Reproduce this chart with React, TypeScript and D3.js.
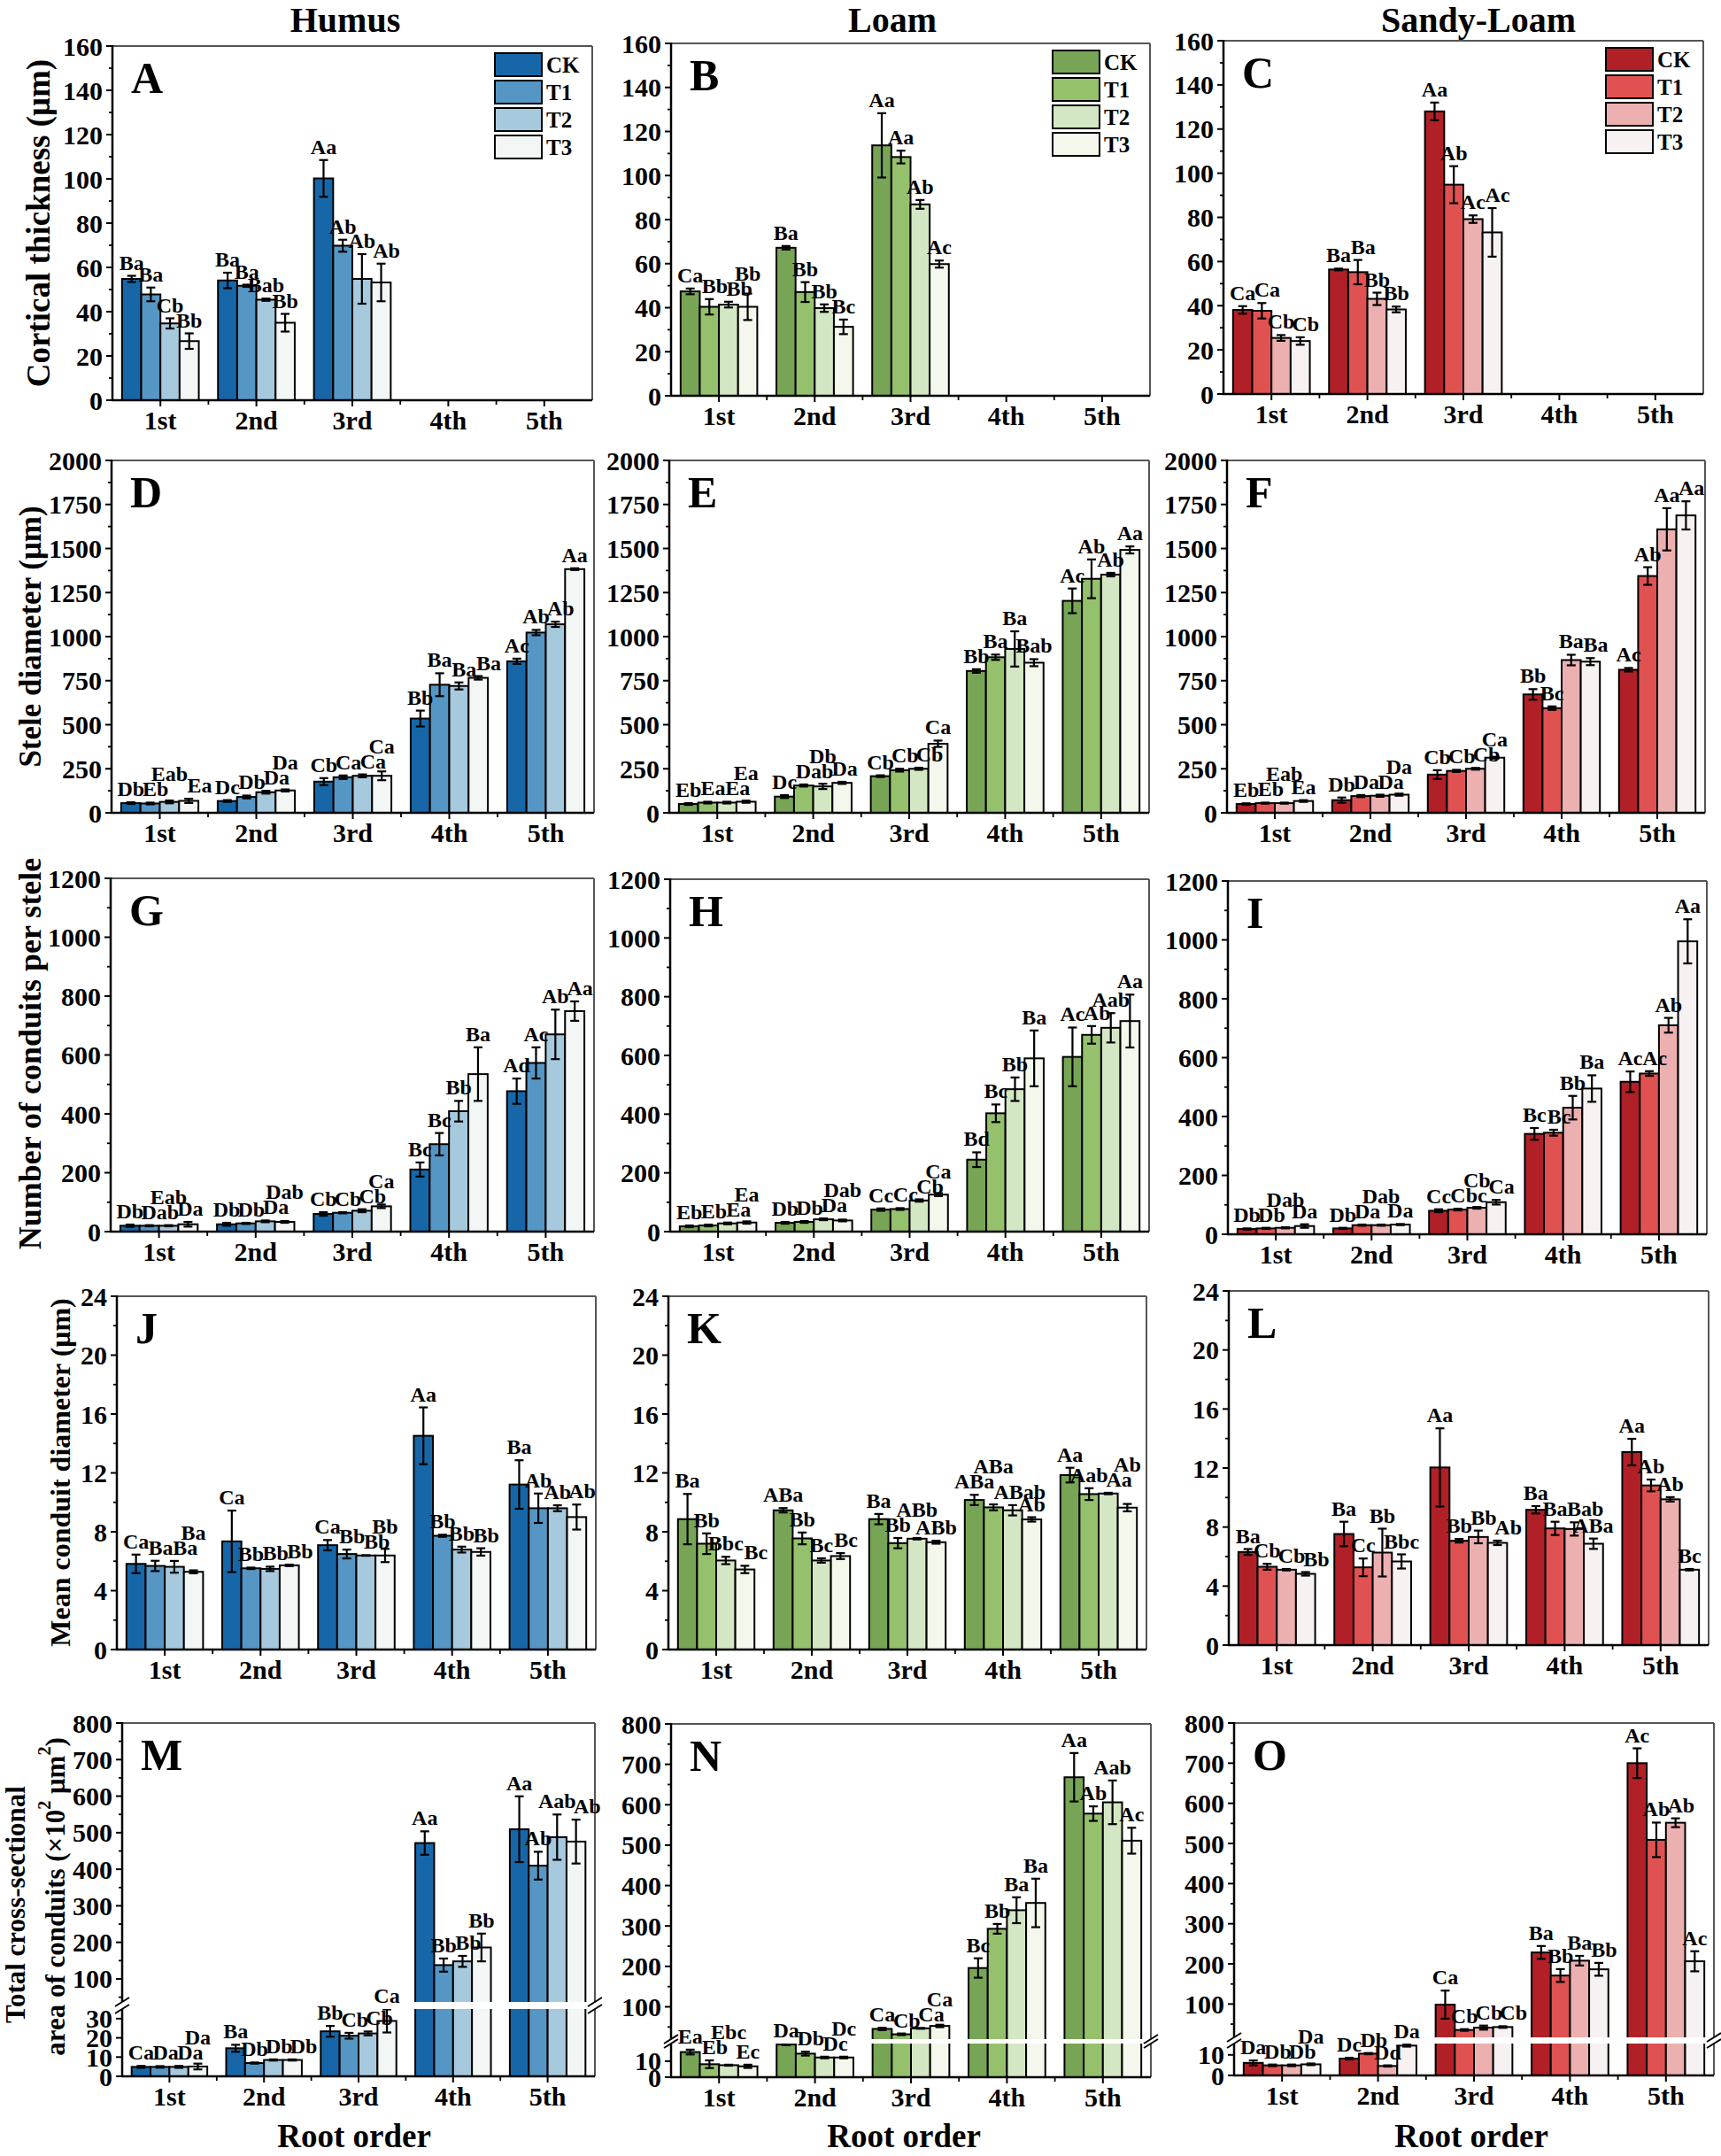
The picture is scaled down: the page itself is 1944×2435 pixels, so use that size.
import React from "react";
import * as d3 from "d3";

const FONT = "'Liberation Serif', 'Times New Roman', serif";
const W = 1944;
const H = 2435;

const orders = ["1st", "2nd", "3rd", "4th", "5th"];
const treatments = ["CK", "T1", "T2", "T3"];

const blues = ["#1767a8", "#5696c4", "#a7c9de", "#f2f7f5"];
const greens = ["#77a555", "#95c16c", "#d4e7c4", "#f4f8ec"];
const reds = ["#b12026", "#e05252", "#ecb0b0", "#f8f1f1"];

// Cortical thickness (µm)
const aMean = [[54.8, 47.8, 34.7, 26.7], [54.1, 51.7, 45.4, 35.0], [100.2, 69.8, 54.8, 53.2], null, null];
const aErr = [[1.4, 3.1, 2.3, 3.5], [3.5, 0.5, 0.5, 4.0], [8.3, 2.7, 11.2, 8.5], null, null];
const aLab = [["Ba", "Ba", "Cb", "Bb"], ["Ba", "Ba", "Bab", "Bb"], ["Aa", "Ab", "Ab", "Ab"], null, null];

const bMean = [[47.4, 40.4, 41.4, 40.4], [67.2, 47.1, 39.8, 31.3], [113.7, 108.4, 86.9, 59.8], null, null];
const bErr = [[1.3, 3.5, 1.3, 6.0], [0.8, 4.5, 1.7, 3.3], [14.6, 2.9, 2.0, 1.6], null, null];
const bLab = [["Ca", "Bb", "Bb", "Bb"], ["Ba", "Bb", "Bb", "Bc"], ["Aa", "Aa", "Ab", "Ac"], null, null];

const cMean = [[38.1, 37.7, 25.4, 24.0], [56.4, 55.2, 43.1, 38.3], [128.0, 94.8, 79.2, 73.2], null, null];
const cErr = [[1.7, 3.5, 1.3, 1.7], [0.4, 5.5, 2.8, 1.3], [4.0, 8.4, 1.7, 11.0], null, null];
const cLab = [["Ca", "Ca", "Cb", "Cb"], ["Ba", "Ba", "Bb", "Bb"], ["Aa", "Ab", "Ac", "Ac"], null, null];

// Stele diameter (µm)
const dMean = [[55, 53, 62, 68], [67, 90, 117, 127], [177, 202, 210, 210], [535, 727, 720, 766], [860, 1023, 1070, 1383]];
const dErr = [[5, 5, 8, 12], [5, 8, 8, 6], [20, 10, 8, 25], [45, 65, 20, 10], [15, 15, 15, 5]];
const dLab = [["Db", "Eb", "Eab", "Ea"], ["Dc", "Db", "Da", "Da"], ["Cb", "Ca", "Ca", "Ca"], ["Bb", "Ba", "Ba", "Ba"], ["Ac", "Ab", "Ab", "Aa"]];

const eMean = [[50, 58, 58, 63], [92, 155, 150, 170], [208, 242, 250, 392], [805, 883, 930, 852], [1203, 1328, 1352, 1492]];
const eErr = [[5, 5, 5, 6], [8, 6, 15, 6], [5, 8, 6, 18], [10, 15, 100, 20], [70, 110, 10, 20]];
const eLab = [["Eb", "Ea", "Ea", "Ea"], ["Dc", "Dab", "Db", "Da"], ["Cb", "Cb", "Cb", "Ca"], ["Bb", "Ba", "Ba", "Bab"], ["Ac", "Ab", "Ab", "Aa"]];

const fMean = [[50, 55, 55, 67], [72, 95, 97, 103], [217, 238, 250, 313], [672, 594, 867, 858], [812, 1344, 1609, 1688]];
const fErr = [[4, 3, 3, 5], [15, 6, 6, 6], [25, 6, 5, 5], [30, 10, 30, 20], [10, 50, 120, 80]];
const fLab = [["Eb", "Eb", "Eab", "Ea"], ["Db", "Da", "Da", "Da"], ["Cb", "Cb", "Cb", "Ca"], ["Bb", "Bc", "Ba", "Ba"], ["Ac", "Ab", "Aa", "Aa"]];

// Number of conduits per stele
const gMean = [[20, 20, 20, 25], [25, 28, 35, 33], [60, 64, 71, 86], [211, 297, 409, 535], [477, 573, 670, 749]];
const gErr = [[4, 2, 2, 8], [5, 2, 3, 3], [6, 2, 5, 6], [24, 38, 35, 91], [43, 53, 84, 33]];
const gLab = [["Db", "Dab", "Eab", "Da"], ["Db", "Db", "Da", "Dab"], ["Cb", "Cb", "Cb", "Ca"], ["Bc", "Bc", "Bb", "Ba"], ["Ad", "Ac", "Ab", "Aa"]];

const hMean = [[18, 21, 28, 31], [30, 33, 42, 38], [75, 77, 106, 126], [245, 403, 485, 590], [595, 670, 694, 717]];
const hErr = [[3, 3, 3, 4], [3, 3, 3, 3], [4, 3, 4, 5], [25, 30, 40, 95], [100, 30, 50, 90]];
const hLab = [["Eb", "Eb", "Ea", "Ea"], ["Db", "Db", "Da", "Dab"], ["Cc", "Cc", "Cb", "Ca"], ["Bd", "Bc", "Bb", "Ba"], ["Ac", "Ab", "Aab", "Aa"]];

const iMean = [[18, 20, 22, 28], [20, 31, 31, 33], [80, 84, 90, 109], [341, 345, 430, 495], [518, 546, 710, 995]];
const iErr = [[2, 2, 2, 6], [2, 2, 2, 2], [5, 3, 3, 8], [20, 10, 40, 45], [35, 8, 25, 75]];
const iLab = [["Db", "Db", "Dab", "Da"], ["Db", "Da", "Dab", "Da"], ["Cc", "Cbc", "Cb", "Ca"], ["Bc", "Bc", "Bb", "Ba"], ["Ac", "Ac", "Ab", "Aa"]];

// Mean conduit diameter (µm)
const jMean = [[5.82, 5.68, 5.62, 5.28], [7.35, 5.52, 5.48, 5.72], [7.09, 6.49, 6.39, 6.39], [14.52, 7.73, 6.79, 6.63], [11.21, 9.6, 9.6, 9.0]];
const jErr = [[0.63, 0.35, 0.4, 0.1], [2.09, 0.05, 0.15, 0.05], [0.35, 0.3, 0.02, 0.45], [1.93, 0.07, 0.2, 0.25], [1.65, 1.0, 0.2, 0.85]];
const jLab = [["Ca", "Ba", "Ba", "Ba"], ["Ca", "Bb", "Bb", "Bb"], ["Ca", "Bb", "Bb", "Bb"], ["Aa", "Bb", "Bb", "Bb"], ["Ba", "Ab", "Ab", "Ab"]];

const kMean = [[8.86, 7.19, 6.05, 5.44], [9.46, 7.55, 6.05, 6.35], [8.86, 7.23, 7.53, 7.29], [10.16, 9.66, 9.46, 8.84], [11.85, 10.56, 10.6, 9.64]];
const kErr = [[1.71, 0.7, 0.25, 0.25], [0.15, 0.4, 0.15, 0.2], [0.35, 0.35, 0.05, 0.1], [0.35, 0.2, 0.35, 0.15], [0.5, 0.4, 0.05, 0.25]];
const kLab = [["Ba", "Bb", "Bbc", "Bc"], ["ABa", "Bb", "Bc", "Bc"], ["Ba", "Bb", "ABb", "ABb"], ["ABa", "ABa", "ABab", "Ab"], ["Aa", "Aab", "Aa", "Ab"]];

const lMean = [[6.31, 5.31, 5.11, 4.83], [7.53, 5.27, 6.27, 5.67], [12.04, 7.07, 7.33, 6.93], [9.17, 7.91, 7.87, 6.87], [13.08, 10.82, 9.88, 5.11]];
const lErr = [[0.2, 0.2, 0.05, 0.12], [0.83, 0.6, 1.62, 0.48], [2.65, 0.12, 0.43, 0.15], [0.25, 0.45, 0.45, 0.35], [0.9, 0.4, 0.15, 0.05]];
const lLab = [["Ba", "Cb", "Cb", "Bb"], ["Ba", "Cc", "Bb", "Bbc"], ["Aa", "Bb", "Bb", "Ab"], ["Ba", "Ba", "Bab", "ABa"], ["Aa", "Ab", "Ab", "Bc"]];

// Total cross-sectional area of conduits (x10^2 µm^2)
const mMean = [[4.9, 4.9, 4.9, 5.1], [14.6, 6.9, 8.5, 8.5], [23.4, 21.1, 22.3, 28.8], [471.7, 137.8, 148, 186], [509.5, 409.8, 487.8, 475.7]];
const mErr = [[0.5, 0.4, 0.5, 1.5], [1.8, 0.3, 0.3, 0.3], [2.8, 1.5, 1.0, 6.0], [32, 18, 15, 38], [90, 38, 62, 60]];
const mLab = [["Ca", "Da", "Da", "Da"], ["Ba", "Db", "Db", "Db"], ["Bb", "Cb", "Cb", "Ca"], ["Aa", "Bb", "Bb", "Bb"], ["Aa", "Ab", "Aab", "Ab"]];

const nMean = [[15.7, 8.1, 7.5, 6.8], [20.4, 14.7, 12.3, 12.3], [45.3, 32, 46.7, 52.6], [196, 293, 339, 357], [668, 578, 606, 511]];
const nErr = [[1.5, 2.4, 0.3, 1.0], [0.4, 1.2, 0.5, 0.5], [3, 2, 1, 3], [24, 12, 32, 60], [60, 18, 54, 32]];
const nLab = [["Ea", "Eb", "Ebc", "Ec"], ["Da", "Db", "Dc", "Dc"], ["Ca", "Cb", "Ca", "Ca"], ["Bc", "Bb", "Ba", "Ba"], ["Aa", "Ab", "Aab", "Ac"]];

const oMean = [[6.1, 4.9, 4.9, 5.4], [8.2, 10.6, 4.6, 14.5], [98.5, 35.4, 41.3, 42.7], [228.5, 171, 208, 186.5], [700, 509, 551.6, 206.5]];
const oErr = [[1.2, 0.4, 0.4, 0.4], [0.4, 0.3, 0.3, 0.5], [35, 2, 5, 2], [16, 16, 12, 16], [37, 43, 11, 25]];
const oLab = [["Da", "Db", "Db", "Da"], ["Dc", "Db", "Dd", "Da"], ["Ca", "Cb", "Cb", "Cb"], ["Ba", "Bb", "Ba", "Bb"], ["Ac", "Ab", "Ab", "Ac"]];

const columnTitles = ["Humus", "Loam", "Sandy-Loam"];

// panel layout (pixel frame of each plot area)
const panels = [
  { id: "A", mean: aMean, err: aErr, lab: aLab, col: blues, max: 160, step: 20, left: 127, right: 669, top: 52, bottom: 452, legend: true },
  { id: "B", mean: bMean, err: bErr, lab: bLab, col: greens, max: 160, step: 20, left: 758, right: 1299, top: 49, bottom: 447, legend: true },
  { id: "C", mean: cMean, err: cErr, lab: cLab, col: reds, max: 160, step: 20, left: 1382, right: 1924, top: 46, bottom: 445, legend: true },
  { id: "D", mean: dMean, err: dErr, lab: dLab, col: blues, max: 2000, step: 250, left: 126, right: 671, top: 520, bottom: 918 },
  { id: "E", mean: eMean, err: eErr, lab: eLab, col: greens, max: 2000, step: 250, left: 756, right: 1298, top: 520, bottom: 918 },
  { id: "F", mean: fMean, err: fErr, lab: fLab, col: reds, max: 2000, step: 250, left: 1386, right: 1926, top: 520, bottom: 918 },
  { id: "G", mean: gMean, err: gErr, lab: gLab, col: blues, max: 1200, step: 200, left: 125, right: 671, top: 992, bottom: 1391 },
  { id: "H", mean: hMean, err: hErr, lab: hLab, col: greens, max: 1200, step: 200, left: 757, right: 1298, top: 993, bottom: 1391 },
  { id: "I", mean: iMean, err: iErr, lab: iLab, col: reds, max: 1200, step: 200, left: 1387, right: 1928, top: 995, bottom: 1394 },
  { id: "J", mean: jMean, err: jErr, lab: jLab, col: blues, max: 24, step: 4, left: 132, right: 673, top: 1464, bottom: 1863 },
  { id: "K", mean: kMean, err: kErr, lab: kLab, col: greens, max: 24, step: 4, left: 755, right: 1295, top: 1464, bottom: 1863 },
  { id: "L", mean: lMean, err: lErr, lab: lLab, col: reds, max: 24, step: 4, left: 1388, right: 1930, top: 1458, bottom: 1858 },
  { id: "M", mean: mMean, err: mErr, lab: mLab, col: blues, max: 800, step: 100, left: 138, right: 672, top: 1946, bottom: 2345,
    brk: { lowMax: 35, highMin: 37, lowPx: 76, highPx: 84, lowTicks: [0, 10, 20, 30] } },
  { id: "N", mean: nMean, err: nErr, lab: nLab, col: greens, max: 800, step: 100, left: 758, right: 1300, top: 1947, bottom: 2346,
    brk: { lowMax: 21, highMin: 20, lowPx: 38, highPx: 43, lowTicks: [0, 10] } },
  { id: "O", mean: oMean, err: oErr, lab: oLab, col: reds, max: 800, step: 100, left: 1394, right: 1936, top: 1946, bottom: 2344,
    brk: { lowMax: 15.5, highMin: 17, lowPx: 36, highPx: 43, lowTicks: [0, 10] } },
];

const LBL = 24;

// rough width of a bold serif label
const labelWidth = (s: string) =>
  [...s].reduce((w, c) => w + (/[A-Z]/.test(c) ? 0.72 : 0.52), 0) * LBL;

function Panel({ p }: { p: any }) {
  const x = d3.scaleBand<string>().domain(orders).range([p.left, p.right]);
  const bw = x.bandwidth();
  const xi = d3.scaleBand<string>().domain(treatments).range([bw * 0.1, bw * 0.9]);
  const barW = xi.bandwidth();

  let y: (v: number) => number;
  let majors: number[];
  let minors: number[];
  if (p.brk) {
    const lo = d3.scaleLinear().domain([0, p.brk.lowMax]).range([p.bottom, p.bottom - p.brk.lowPx]);
    const hi = d3.scaleLinear().domain([p.brk.highMin, p.max]).range([p.bottom - p.brk.highPx, p.top]);
    y = (v) => (v <= p.brk.lowMax ? lo(v) : hi(Math.max(v, p.brk.highMin)));
    majors = [...p.brk.lowTicks, ...d3.range(100, p.max + 1, 100)];
    minors = d3.range(50, p.max, 100).filter((v) => v > p.brk.highMin + 5);
  } else {
    const s = d3.scaleLinear().domain([0, p.max]).range([p.bottom, p.top]);
    y = (v) => s(v);
    majors = d3.range(0, p.max + p.step / 2, p.step);
    minors = d3.range(p.step / 2, p.max, p.step);
  }

  const bars: any[] = [];
  const labels: any[] = [];
  const placed: any[] = [];
  orders.forEach((o, gi) => {
    const row = p.mean[gi];
    if (!row) return;
    row.forEach((m: number, ti: number) => {
      const e = p.err[gi][ti];
      const bx = (x(o) as number) + (xi(treatments[ti]) as number);
      const cx = bx + barW / 2;
      bars.push({ key: `${o}-${ti}`, bx, cx, m, e, color: p.col[ti] });
      const txt = p.lab[gi][ti];
      const w = labelWidth(txt);
      let lx = cx;
      let ly = y(m + e) - 7;
      // nudge right a little, otherwise step up, until the letters stop colliding
      for (let it = 0; it < 30; it++) {
        let hit = false;
        for (const q of placed) {
          const hov = (w + q.w) / 2 - Math.abs(lx - q.lx);
          if (hov > 3 && Math.abs(ly - q.ly) < 13) {
            const need = hov - 2;
            if (lx >= q.lx && lx - cx + need <= 13) lx += need;
            else ly = q.ly - 17;
            hit = true;
          }
        }
        if (!hit) break;
      }
      placed.push({ lx, ly, w });
      labels.push({ key: `${o}-${ti}`, lx, ly, txt });
    });
  });

  const cap = 5;
  return (
    <g>
      {bars.map((b) => (
        <rect key={b.key} x={b.bx} width={barW} y={y(b.m)} height={p.bottom - y(b.m)}
          fill={b.color} stroke="#000" strokeWidth={2} />
      ))}
      {bars.map((b) => {
        const y1 = y(b.m + b.e);
        const y2 = y(Math.max(0, b.m - b.e));
        return (
          <g key={"e" + b.key} stroke="#000" strokeWidth={2.2}>
            <line x1={b.cx} x2={b.cx} y1={y1} y2={y2} />
            <line x1={b.cx - cap} x2={b.cx + cap} y1={y1} y2={y1} />
            <line x1={b.cx - cap} x2={b.cx + cap} y1={y2} y2={y2} />
          </g>
        );
      })}
      {/* frame */}
      <line x1={p.left} x2={p.right} y1={p.top} y2={p.top} stroke="#555" strokeWidth={2} />
      <line x1={p.right} x2={p.right} y1={p.top} y2={p.bottom} stroke="#555" strokeWidth={2} />
      <line x1={p.left} x2={p.left} y1={p.top - 1} y2={p.bottom + 1} stroke="#000" strokeWidth={2.5} />
      <line x1={p.left - 1} x2={p.right} y1={p.bottom} y2={p.bottom} stroke="#000" strokeWidth={2.5} />
      {/* y ticks */}
      {majors.map((v) => (
        <g key={"yt" + v}>
          <line x1={p.left - 7} x2={p.left} y1={y(v)} y2={y(v)} stroke="#000" strokeWidth={2} />
          <text x={p.left - 11} y={y(v)} textAnchor="end" dominantBaseline="central"
            fontFamily={FONT} fontWeight="bold" fontSize={30}>{v}</text>
        </g>
      ))}
      {minors.map((v) => (
        <line key={"ym" + v} x1={p.left - 4} x2={p.left} y1={y(v)} y2={y(v)} stroke="#000" strokeWidth={1.8} />
      ))}
      {/* x ticks */}
      {orders.map((o) => (
        <g key={"xt" + o}>
          <line x1={(x(o) as number) + bw / 2} x2={(x(o) as number) + bw / 2} y1={p.bottom} y2={p.bottom + 7}
            stroke="#000" strokeWidth={2} />
          <text x={(x(o) as number) + bw / 2} y={p.bottom + 33} textAnchor="middle"
            fontFamily={FONT} fontWeight="bold" fontSize={30}>{o}</text>
        </g>
      ))}
      {orders.slice(1).map((o) => (
        <line key={"xm" + o} x1={x(o) as number} x2={x(o) as number} y1={p.bottom} y2={p.bottom + 5}
          stroke="#000" strokeWidth={1.8} />
      ))}
      {p.brk && (
        <g>
          <rect x={p.left - 14} width={p.right - p.left + 28} y={p.bottom - p.brk.highPx}
            height={p.brk.highPx - p.brk.lowPx} fill="#fff" />
          {[p.left, p.right].map((bx) =>
            [p.bottom - p.brk.highPx, p.bottom - p.brk.lowPx].map((by) => (
              <line key={`${bx}-${by}`} x1={bx - 8} y1={by + 5} x2={bx + 8} y2={by - 5}
                stroke="#000" strokeWidth={2} />
            ))
          )}
        </g>
      )}
      {labels.map((l) => (
        <text key={"l" + l.key} x={l.lx} y={l.ly} textAnchor="middle" fontFamily={FONT}
          fontWeight="bold" fontSize={LBL}>{l.txt}</text>
      ))}
      <text x={p.left + 21} y={p.top + 53} fontFamily={FONT} fontWeight="bold" fontSize={50}>{p.id}</text>
      {p.legend &&
        treatments.map((t, i) => (
          <g key={"lg" + t}>
            <rect x={p.right - 110} y={p.top + 8 + i * 31} width={53} height={26}
              fill={p.col[i]} stroke="#000" strokeWidth={2} />
            <text x={p.right - 52} y={p.top + 21 + i * 31} dominantBaseline="central"
              fontFamily={FONT} fontWeight="bold" fontSize={25}>{t}</text>
          </g>
        ))}
    </g>
  );
}

const yTitles = [
  { text: "Cortical thickness (μm)", x: 43, y: 252, fs: 37 },
  { text: "Stele diameter (μm)", x: 34, y: 719, fs: 35 },
  { text: "Number of conduits per stele", x: 34, y: 1190, fs: 36 },
  { text: "Mean conduit diameter (μm)", x: 68, y: 1663, fs: 32 },
];

export default function App() {
  const titleX = [390, 1008, 1670];
  const rootX = [400, 1021, 1662];
  return (
    <svg width={W} height={H} style={{ position: "absolute", left: 0, top: 0, background: "#fff" }}>
      <rect width={W} height={H} fill="#fff" />
      {columnTitles.map((t, i) => (
        <text key={t} x={titleX[i]} y={36} textAnchor="middle" fontFamily={FONT} fontWeight="bold" fontSize={40}>{t}</text>
      ))}
      {panels.map((p) => (
        <Panel key={p.id} p={p} />
      ))}
      {yTitles.map((t) => (
        <text key={t.text} transform={`translate(${t.x},${t.y}) rotate(-90)`} textAnchor="middle"
          dominantBaseline="central" fontFamily={FONT} fontWeight="bold" fontSize={t.fs}>{t.text}</text>
      ))}
      <text transform="translate(17,2151) rotate(-90)" textAnchor="middle" dominantBaseline="central"
        fontFamily={FONT} fontWeight="bold" fontSize={31}>Total cross-sectional</text>
      <text transform="translate(62,2142) rotate(-90)" textAnchor="middle" dominantBaseline="central"
        fontFamily={FONT} fontWeight="bold" fontSize={31}>
        area of conduits (×10<tspan dy={-12} fontSize={20}>2</tspan>
        <tspan dy={12}> μm</tspan><tspan dy={-12} fontSize={20}>2</tspan><tspan dy={12}>)</tspan>
      </text>
      {rootX.map((rx, i) => (
        <text key={"ro" + i} x={rx} y={2425} textAnchor="middle" fontFamily={FONT} fontWeight="bold" fontSize={37}>Root order</text>
      ))}
    </svg>
  );
}
